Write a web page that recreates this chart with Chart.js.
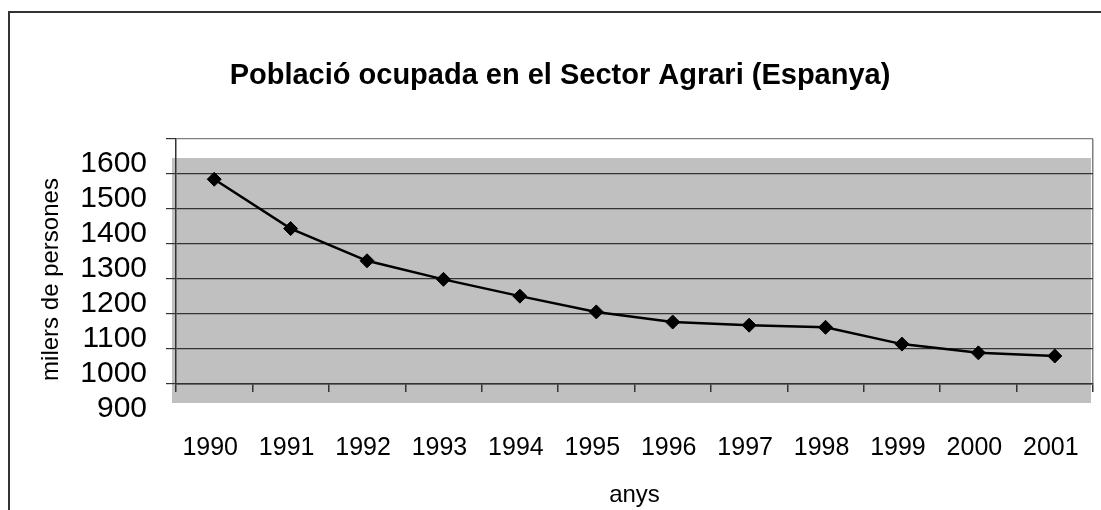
<!DOCTYPE html>
<html>
<head>
<meta charset="utf-8">
<script src="https://cdn.jsdelivr.net/npm/chart.js@4.4.1/dist/chart.umd.min.js"></script>
<style>
  html, body { margin: 0; padding: 0; background: #fff; }
  #wrap { width: 1101px; height: 510px; position: relative; }
</style>
</head>
<body>
<div id="wrap"><canvas id="grafic"></canvas></div>
<script>
// dades del gràfic
const anys = ['1990', '1991', '1992', '1993', '1994', '1995', '1996', '1997', '1998', '1999', '2000', '2001'];
const ocupats = [1485, 1344, 1252, 1199, 1151, 1106, 1077, 1068, 1062, 1014, 989, 980];
const yMin = 900;
const yMax = 1600;
const yPas = 100;

const titol = 'Població ocupada en el Sector Agrari (Espanya)';
const titolY = 'milers de persones';
const titolX = 'anys';

const FONT = '"Liberation Sans", Arial, sans-serif';

// fons gris (desplaçat), marc exterior i títol de l'eix Y
const fonsPlugin = {
    id: 'fons',
    beforeDraw(chart) {
        const { ctx, chartArea: a } = chart;
        ctx.save();
        ctx.strokeStyle = '#333';
        ctx.lineWidth = 2;
        ctx.strokeRect(9, 12, 1200, 600);
        ctx.fillStyle = '#c0c0c0';
        ctx.fillRect(a.left - 4, a.top + 19, (a.right - a.left) + 2, a.bottom - a.top);
        ctx.restore();
    },
    afterDraw(chart) {
        const { ctx, chartArea: a } = chart;
        ctx.save();
        ctx.translate(51, (a.top + a.bottom) / 2 + 18);
        ctx.rotate(-Math.PI / 2);
        ctx.font = '24px ' + FONT;
        ctx.fillStyle = '#000';
        ctx.textAlign = 'center';
        ctx.textBaseline = 'middle';
        ctx.fillText(titolY, 0, 0);
        ctx.restore();
    }
};

new Chart(document.getElementById('grafic').getContext('2d'), {
    type: 'line',
    data: {
        labels: anys,
        datasets: [{
            data: ocupats,
            borderColor: '#000',
            borderWidth: 2.5,
            backgroundColor: '#000',
            pointStyle: 'rectRot',
            pointRadius: 7,
            pointBorderWidth: 1,
            pointBackgroundColor: '#000',
            pointBorderColor: '#000',
            tension: 0,
            fill: false
        }]
    },
    options: {
        responsive: true,
        maintainAspectRatio: false,
        animation: false,
        devicePixelRatio: 1,
        layout: { padding: { left: 26, right: 7, top: 0, bottom: 0 } },
        plugins: {
            legend: { display: false },
            tooltip: { enabled: false },
            title: {
                display: true,
                text: titol,
                color: '#000',
                font: { family: FONT, size: 29, weight: 'bold', lineHeight: 1.2 },
                padding: { top: 59, bottom: 45.2 }
            }
        },
        scales: {
            x: {
                offset: true,
                afterFit: (s) => { s.height = 126; },
                grid: {
                    offset: true,
                    drawOnChartArea: true,
                    // només la vora dreta del requadre
                    color: (c) => c.tick ? 'rgba(0,0,0,0)' : '#808080',
                    tickColor: '#333',
                    tickLength: 8,
                    lineWidth: 1.5
                },
                border: { color: '#333', width: 1.5 },
                ticks: {
                    autoSkip: false,
                    maxRotation: 0,
                    color: '#000',
                    // interlineat gran per baixar les etiquetes sense afegir marge lateral
                    font: { family: FONT, size: 25, lineHeight: 4.3 },
                    padding: 2,
                    labelOffset: -4
                },
                title: {
                    display: true,
                    text: titolX,
                    color: '#000',
                    font: { family: FONT, size: 24, lineHeight: 1.2 },
                    padding: { top: 0, bottom: 0 }
                }
            },
            y: {
                min: yMin,
                max: yMax,
                afterFit: (s) => { s.width = 150; },
                grid: {
                    color: (c) => c.tick && c.tick.value === yMax ? '#808080' : '#333',
                    tickColor: '#333',
                    tickLength: 10,
                    lineWidth: 1.2
                },
                border: { color: '#333', width: 1.5 },
                ticks: {
                    stepSize: yPas,
                    autoSkip: false,
                    color: '#000',
                    font: { family: FONT, size: 30, lineHeight: 1 },
                    padding: 19,
                    labelOffset: 25,
                    callback: (v) => String(v)
                }
            }
        }
    },
    plugins: [fonsPlugin]
});
</script>
</body>
</html>
